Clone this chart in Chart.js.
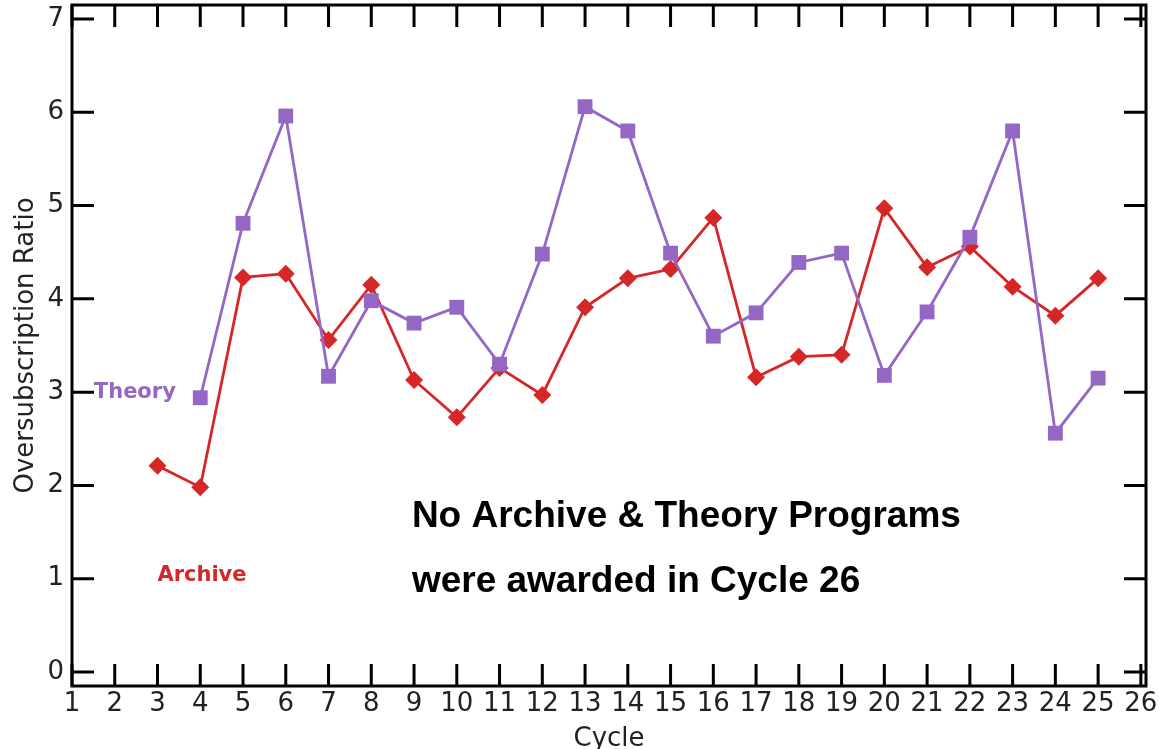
<!DOCTYPE html>
<html>
<head>
<meta charset="utf-8">
<script src="https://cdn.jsdelivr.net/npm/chart.js@4/dist/chart.umd.min.js"></script>
<style>
  html, body { margin: 0; padding: 0; background: #fff; }
  #wrap { width: 1159px; height: 749px; }
</style>
</head>
<body>
<div id="wrap"><canvas id="chart"></canvas></div>
<script>
// data
var theoryCycles = [4, 5, 6, 7, 8, 9, 10, 11, 12, 13, 14, 15, 16, 17, 18, 19, 20, 21, 22, 23, 24, 25];
var theoryRatio = [2.94, 4.81, 5.96, 3.17, 3.98, 3.74, 3.91, 3.30, 4.48, 6.06, 5.80, 4.49, 3.60, 3.85, 4.39, 4.49, 3.18, 3.86, 4.66, 5.80, 2.56, 3.15];
var archiveCycles = [3, 4, 5, 6, 7, 8, 9, 10, 11, 12, 13, 14, 15, 16, 17, 18, 19, 20, 21, 22, 23, 24, 25];
var archiveRatio = [2.21, 1.98, 4.23, 4.27, 3.56, 4.15, 3.13, 2.73, 3.26, 2.97, 3.91, 4.22, 4.32, 4.87, 3.16, 3.38, 3.40, 4.97, 4.34, 4.56, 4.13, 3.82, 4.22];
var xTickValues = [1, 2, 3, 4, 5, 6, 7, 8, 9, 10, 11, 12, 13, 14, 15, 16, 17, 18, 19, 20, 21, 22, 23, 24, 25, 26];
var yTickValues = [0, 1, 2, 3, 4, 5, 6, 7];

var theoryColor = '#9467c4';
var archiveColor = '#d62728';

function toPoints(xs, ys) {
  var pts = [];
  for (var i = 0; i < xs.length; i++) pts.push({ x: xs[i], y: ys[i] });
  return pts;
}

// box + inward ticks on all four sides, plus the text notes
var framePlugin = {
  id: 'frame',
  afterDraw: function(chart) {
    var ctx = chart.ctx;
    var a = chart.chartArea;
    var xs = chart.scales.x, ys = chart.scales.y;
    var len = 22;
    ctx.save();
    ctx.strokeStyle = '#000';
    ctx.lineWidth = 3;
    ctx.beginPath();
    xTickValues.forEach(function(v) {
      var px = xs.getPixelForValue(v);
      ctx.moveTo(px, a.bottom); ctx.lineTo(px, a.bottom - len);
      ctx.moveTo(px, a.top); ctx.lineTo(px, a.top + len);
    });
    yTickValues.forEach(function(v) {
      var py = ys.getPixelForValue(v);
      ctx.moveTo(a.left, py); ctx.lineTo(a.left + len, py);
      ctx.moveTo(a.right, py); ctx.lineTo(a.right - len, py);
    });
    ctx.stroke();
    ctx.strokeRect(a.left, a.top, a.right - a.left, a.bottom - a.top);

    // series labels
    ctx.font = 'bold 21px "DejaVu Sans"';
    ctx.textAlign = 'center';
    ctx.textBaseline = 'middle';
    ctx.fillStyle = theoryColor;
    ctx.fillText('Theory', xs.getPixelForValue(2.47), ys.getPixelForValue(3.0));
    ctx.fillStyle = archiveColor;
    ctx.fillText('Archive', xs.getPixelForValue(4.04), ys.getPixelForValue(1.03));

    // note
    ctx.font = 'bold 37px "Liberation Sans", Arial';
    ctx.textAlign = 'left';
    ctx.textBaseline = 'alphabetic';
    ctx.fillStyle = '#000';
    ctx.fillText('No Archive & Theory Programs', xs.getPixelForValue(8.95), ys.getPixelForValue(1.55));
    ctx.fillText('were awarded in Cycle 26', xs.getPixelForValue(8.95), ys.getPixelForValue(0.86));
    ctx.restore();
  }
};

var ctx = document.getElementById('chart').getContext('2d');
new Chart(ctx, {
  type: 'line',
  data: {
    datasets: [{
      label: 'Theory',
      data: toPoints(theoryCycles, theoryRatio),
      borderColor: theoryColor,
      backgroundColor: theoryColor,
      borderWidth: 2.8,
      pointStyle: 'rect',
      pointRadius: 10.5,
      pointBorderWidth: 0,
      tension: 0
    }, {
      label: 'Archive',
      data: toPoints(archiveCycles, archiveRatio),
      borderColor: archiveColor,
      backgroundColor: archiveColor,
      borderWidth: 2.8,
      pointStyle: 'rectRot',
      pointRadius: 9,
      pointBorderWidth: 0,
      tension: 0
    }]
  },
  options: {
    responsive: true,
    maintainAspectRatio: false,
    animation: false,
    layout: { autoPadding: false, padding: { top: 5, right: 13, left: 0, bottom: 0 } },
    plugins: {
      legend: { display: false },
      tooltip: { enabled: false }
    },
    scales: {
      x: {
        type: 'linear',
        min: 1,
        max: 26.12,
        grid: { display: false, drawTicks: false },
        border: { display: false },
        afterBuildTicks: function(scale) {
          scale.ticks = xTickValues.map(function(v) { return { value: v }; });
        },
        afterFit: function(scale) {
          scale.height = 63;
          scale.paddingLeft = 0;
          scale.paddingRight = 0;
        },
        ticks: {
          autoSkip: false,
          maxRotation: 0,
          padding: 3,
          color: '#222',
          font: { family: '"DejaVu Sans"', size: 26 }
        },
        title: {
          display: true,
          text: 'Cycle',
          color: '#222',
          padding: { top: 0, bottom: -6 },
          font: { family: '"DejaVu Sans"', size: 26 }
        }
      },
      y: {
        min: -0.15,
        max: 7.15,
        grid: { display: false, drawTicks: false },
        border: { display: false },
        afterBuildTicks: function(scale) {
          scale.ticks = yTickValues.map(function(v) { return { value: v }; });
        },
        afterFit: function(scale) {
          scale.width = 72;
          scale.paddingTop = 0;
          scale.paddingBottom = 0;
        },
        ticks: {
          padding: 8,
          color: '#222',
          font: { family: '"DejaVu Sans"', size: 26 }
        },
        title: {
          display: true,
          text: 'Oversubscription Ratio',
          color: '#222',
          padding: { top: 11, bottom: 0 },
          font: { family: '"DejaVu Sans"', size: 26 }
        }
      }
    }
  },
  plugins: [framePlugin]
});
</script>
</body>
</html>
